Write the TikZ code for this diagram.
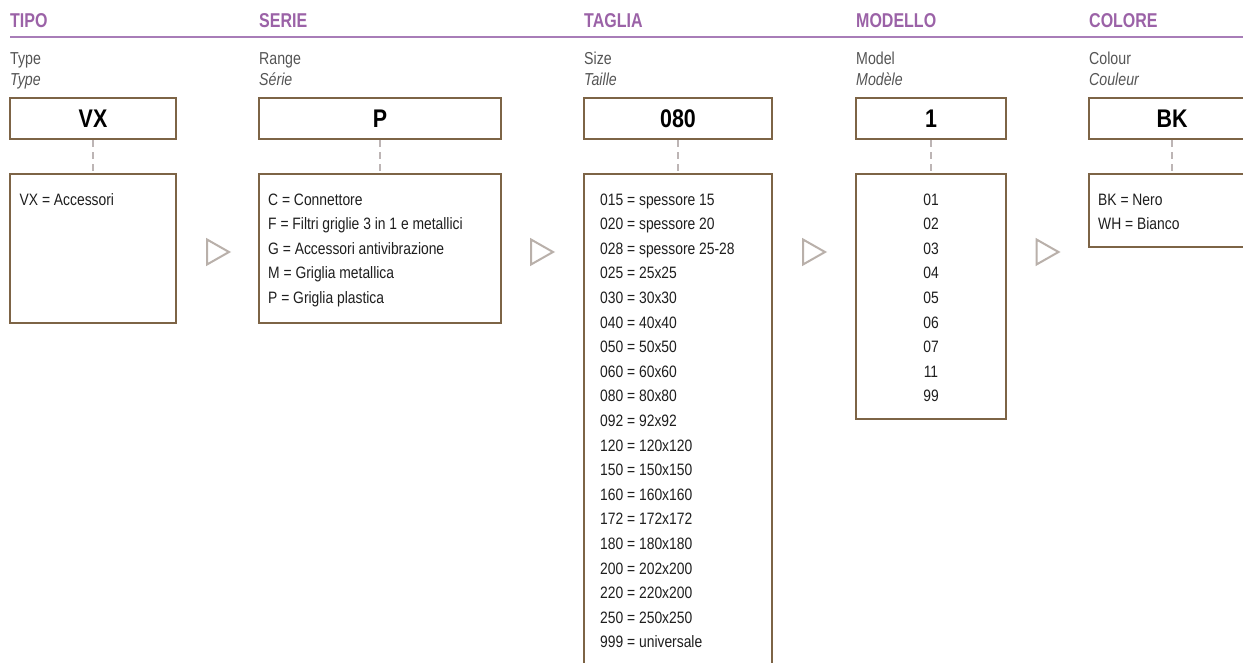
\documentclass[tikz,border=0pt]{standalone}
\usepackage{fontspec}
\setmainfont[FakeStretch=0.84]{Liberation Sans}
\newfontfamily\headfont[FakeStretch=0.8]{Liberation Sans}
\newfontfamily\subfont[FakeStretch=0.82]{Liberation Sans}
\newfontfamily\codefont[FakeStretch=0.84]{Liberation Sans}
\usetikzlibrary{calc}
\definecolor{brownc}{HTML}{7D6446}
\definecolor{headc}{HTML}{9B62A7}
\definecolor{rulec}{HTML}{A87DB8}
\definecolor{subc}{HTML}{555555}
\definecolor{dashc}{HTML}{BDB5B5}
\definecolor{tric}{HTML}{B9B0AA}
\definecolor{textc}{HTML}{1E1E1E}
\tikzset{
  head/.style={font=\headfont\bfseries\fontsize{20}{20}\selectfont, text=headc, anchor=base west, inner sep=0pt},
  sublabel/.style={font=\subfont\fontsize{17.3}{21}\selectfont, text=subc, anchor=base west, inner sep=0pt, align=left},
  codebox/.style={draw=brownc, line width=2pt, minimum height=41pt, inner sep=0pt, font=\codefont\bfseries\fontsize{25.5}{25.5}\selectfont, text=black},
  listbox/.style={draw=brownc, line width=2pt, inner sep=0pt},
  listtext/.style={font=\fontsize{16.5}{24.6}\selectfont, text=textc, anchor=base west, inner sep=0pt, align=left},
  dashline/.style={draw=dashc, line width=2pt, dash pattern=on 7pt off 5pt},
  tri/.style={draw=tric, line width=2pt, line join=miter}
}
\begin{document}
\begin{tikzpicture}[x=1pt,y=-1pt]
\useasboundingbox (0,0) rectangle (1243,662);
\clip (0,0) rectangle (1243,662);
\fill[white] (0,0) rectangle (1243,662);

% headers
\node[head] (h1) at (10,27) {TIPO};
\node[head] (h2) at (259,27) {SERIE};
\node[head] (h3) at (584,27) {TAGLIA};
\node[head] (h4) at (856,27) {MODELLO};
\node[head] (h5) at (1089,27) {COLORE};
\draw[rulec, line width=1.5pt] (10,37) -- (1243,37);

% sub labels (anchor = baseline of the last line)
\node[sublabel] (s1) at (10,85) {Type\\\itshape Type};
\node[sublabel] (s2) at (259,85) {Range\\\itshape Série};
\node[sublabel] (s3) at (584,85) {Size\\\itshape Taille};
\node[sublabel] (s4) at (856,85) {Model\\\itshape Modèle};
\node[sublabel] (s5) at (1089,85) {Colour\\\itshape Couleur};

% code boxes
\node[codebox, minimum width=166pt] (t1) at (93,118.5) {VX};
\node[codebox, minimum width=242pt] (t2) at (380,118.5) {P};
\node[codebox, minimum width=188pt] (t3) at (678,118.5) {080};
\node[codebox, minimum width=150pt] (t4) at (931,118.5) {1};
\node[codebox, minimum width=166pt] (t5) at (1172,118.5) {BK};

% list boxes
\node[listbox, minimum width=166pt, minimum height=149pt] (b1) at (93,248.5) {};
\node[listbox, minimum width=242pt, minimum height=149pt] (b2) at (380,248.5) {};
\node[listbox, minimum width=188pt, minimum height=526pt] (b3) at (678,437) {};
\node[listbox, minimum width=150pt, minimum height=245pt] (b4) at (931,296.5) {};
\node[listbox, minimum width=166pt, minimum height=73pt] (b5) at (1172,210.5) {};

% connectors
\draw[dashline] (t1.south) -- (b1.north);
\draw[dashline] (t2.south) -- (b2.north);
\draw[dashline] (t3.south) -- (b3.north);
\draw[dashline] (t4.south) -- (b4.north);
\draw[dashline] (t5.south) -- (b5.north);

% list texts (anchor = baseline of the last line; first baseline at 206)
\node[listtext] (l1) at ($(b1.north west)+(10.5,32)$) {VX = Accessori};
\node[listtext] (l2) at ($(b2.north west)+(10,130.4)$) {C = Connettore\\F = Filtri griglie 3 in 1 e metallici\\G = Accessori antivibrazione\\M = Griglia metallica\\P = Griglia plastica};
\node[listtext] (l3) at ($(b3.north west)+(17,474.8)$) {015 = spessore 15\\020 = spessore 20\\028 = spessore 25-28\\025 = 25x25\\030 = 30x30\\040 = 40x40\\050 = 50x50\\060 = 60x60\\080 = 80x80\\092 = 92x92\\120 = 120x120\\150 = 150x150\\160 = 160x160\\172 = 172x172\\180 = 180x180\\200 = 202x200\\220 = 220x200\\250 = 250x250\\999 = universale};
\node[listtext, anchor=base, align=center] (l4) at ($(b4.north)+(0,228.8)$) {01\\02\\03\\04\\05\\06\\07\\11\\99};
\node[listtext] (l5) at ($(b5.north west)+(10,56.6)$) {BK = Nero\\WH = Bianco};

% flow triangles
\draw[tri] (207,239.5) -- (229,252) -- (207,264.5) -- cycle;
\draw[tri] (531,239.5) -- (553,252) -- (531,264.5) -- cycle;
\draw[tri] (803,239.5) -- (825,252) -- (803,264.5) -- cycle;
\draw[tri] (1036.5,239.5) -- (1058.5,252) -- (1036.5,264.5) -- cycle;
\end{tikzpicture}
\end{document}
